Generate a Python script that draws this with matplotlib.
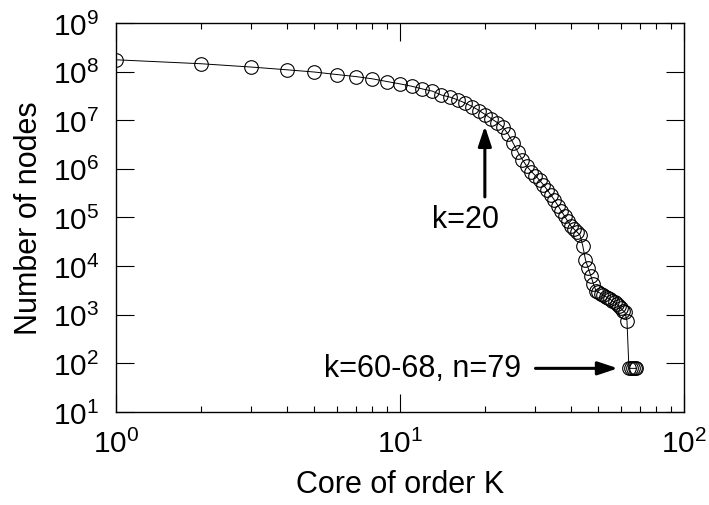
import matplotlib
matplotlib.use('Agg')
import matplotlib.pyplot as plt
import numpy as np

plt.rcParams['font.family'] = 'Liberation Sans'
plt.rcParams['mathtext.default'] = 'regular'

# core order k and number of nodes in the k-core
core_k = list(range(1, 69))
num_nodes = [
    1.75e8, 1.45e8, 1.24e8, 1.09e8, 9.8e7, 8.7e7, 7.9e7, 7.1e7, 6.25e7, 5.6e7,
    5.0e7, 4.4e7, 3.97e7, 3.3e7, 2.99e7, 2.61e7, 2.25e7, 1.90e7, 1.58e7, 1.30e7,
    1.07e7, 8.97e6, 7.28e6, 5.27e6, 3.44e6, 2.22e6, 1.54e6, 1.12e6, 8.8e5, 7.24e5,
    5.85e5, 4.69e5, 3.70e5, 2.89e5, 2.27e5, 1.75e5, 1.36e5, 1.06e5, 8.3e4, 6.65e4,
    5.77e4, 5.04e4, 4.39e4, 2.65e4, 1.34e4, 9.1e3, 6.3e3, 4.3e3, 3.1e3, 2.9e3,
    2.72e3, 2.53e3, 2.37e3, 2.21e3, 2.07e3, 1.92e3, 1.80e3, 1.63e3, 1.48e3, 1.35e3,
    1.22e3, 1.12e3, 745, 79, 79, 79, 79, 79,
]

fig = plt.figure(figsize=(7.09, 5.06), dpi=100)
ax = fig.add_axes([0.1636, 0.1838, 0.8011, 0.7688])

ax.plot(core_k, num_nodes, '-', color='black', lw=0.7,
        marker='o', mfc='none', mec='black', ms=9.8, mew=0.8)

ax.set_xscale('log')
ax.set_yscale('log')
ax.set_xlim(1, 100)
ax.set_ylim(10, 1e9)
ax.set_yticks([10 ** i for i in range(1, 10)])
ax.set_xticks([1, 10, 100])

ax.tick_params(which='both', direction='in', top=True, right=True, width=0.8)
ax.tick_params(which='major', length=13, labelsize=21.5, pad=12)
ax.tick_params(which='minor', length=4.5)
for s in ax.spines.values():
    s.set_linewidth(1.0)

ax.set_xlabel('Core of order K', fontsize=22, labelpad=8)
ax.set_ylabel('Number of nodes', fontsize=22, labelpad=6)

arrow = dict(arrowstyle='-|>,head_length=0.6,head_width=0.2', lw=2.2,
             color='black', mutation_scale=20, shrinkA=0, shrinkB=0)
ax.annotate('', xy=(19.9, 7.6e6), xytext=(19.9, 2.65e5), arrowprops=arrow)
ax.text(17.0, 9.4e4, 'k=20', fontsize=22, ha='center', va='center')

ax.annotate('', xy=(58.5, 79), xytext=(30.0, 79), arrowprops=arrow)
ax.text(26.6, 79, 'k=60-68, n=79', fontsize=22, ha='right', va='center')

fig.savefig('out.png', dpi=100)
